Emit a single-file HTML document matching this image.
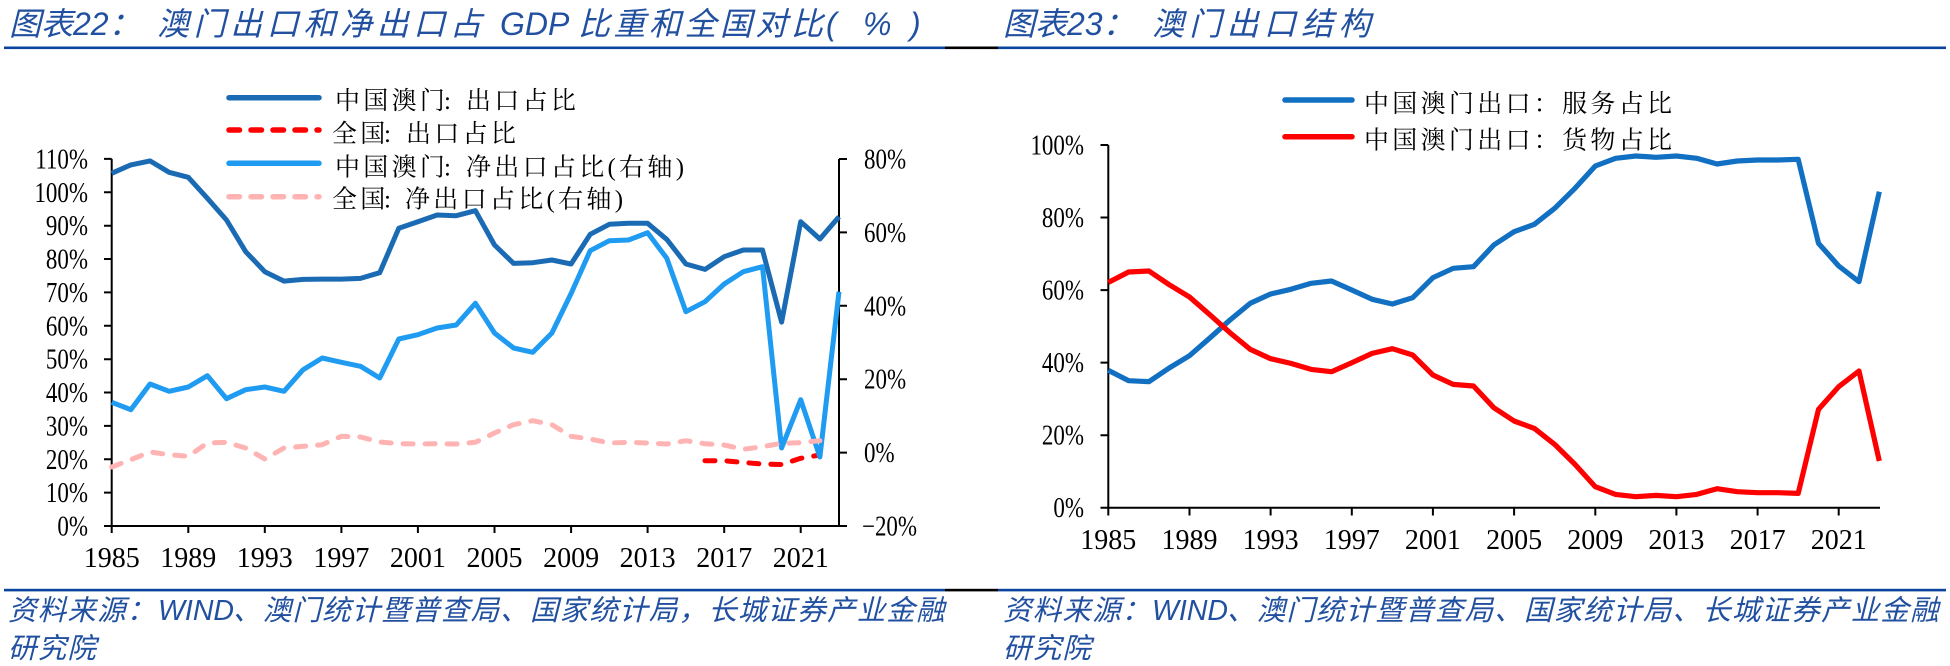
<!DOCTYPE html>
<html>
<head>
<meta charset="utf-8">
<style>
  html,body{margin:0;padding:0;background:#fff;}
  svg{display:block;}
</style>
</head>
<body>
<svg width="1950" height="666" viewBox="0 0 1950 666" xmlns="http://www.w3.org/2000/svg">
<rect width="1950" height="666" fill="#fff"/>

<!-- header & footer rules -->
<rect x="4" y="46.5" width="941" height="2.6" fill="#0B449E"/>
<rect x="945" y="46.5" width="53" height="2.6" fill="#000"/>
<rect x="998" y="46.5" width="948" height="2.6" fill="#0B449E"/>
<rect x="4" y="588.8" width="941" height="2.6" fill="#0B449E"/>
<rect x="945" y="588.8" width="53" height="2.6" fill="#000"/>
<rect x="998" y="588.8" width="948" height="2.6" fill="#0B449E"/>

<!-- titles -->
<g font-family="'Liberation Sans','Noto Sans CJK SC',sans-serif" font-style="italic" font-size="32" fill="#2150A0">
  <text x="9" y="35">图表22：</text>
  <text x="157" y="35" letter-spacing="4.6">澳门出口和净出口占</text>
  <text x="500" y="35">GDP</text>
  <text x="578" y="35" letter-spacing="3.5">比重和全国对比</text>
  <text x="826" y="35">(</text>
  <text x="863" y="35">%</text>
  <text x="910" y="35">)</text>

  <text x="1003" y="35">图表23：</text>
  <text x="1152" y="35" letter-spacing="5.3">澳门出口结构</text>
</g>

<!-- footers -->
<g font-family="'Liberation Sans','Noto Sans CJK SC',sans-serif" font-style="italic" font-size="28.5" fill="#2150A0">
  <text x="8" y="620" letter-spacing="1.2">资料来源：</text>
  <text x="158" y="620">WIND</text>
  <text x="233" y="620" letter-spacing="1.2">、澳门统计暨普查局、国家统计局，长城证券产业金融</text>
  <text x="8" y="658" letter-spacing="1.2">研究院</text>

  <text x="1003" y="620" letter-spacing="1.2">资料来源：</text>
  <text x="1152" y="620">WIND</text>
  <text x="1227" y="620" letter-spacing="1.2">、澳门统计暨普查局、国家统计局、长城证券产业金融</text>
  <text x="1003" y="658" letter-spacing="1.2">研究院</text>
</g>

<!-- ================= LEFT CHART ================= -->
<g stroke="#000" stroke-width="2" fill="none">
  <line x1="111.7" y1="158.9" x2="111.7" y2="527"/>
  <line x1="110.7" y1="526" x2="840" y2="526"/>
  <line x1="839" y1="159" x2="839" y2="527"/>
  <!-- left ticks -->
  <path d="M104 526H111.7M104 492.6H111.7M104 459.3H111.7M104 425.9H111.7M104 392.5H111.7M104 359.2H111.7M104 325.8H111.7M104 292.4H111.7M104 259H111.7M104 225.7H111.7M104 192.3H111.7M104 158.9H111.7"/>
  <!-- right ticks -->
  <path d="M839 526H847M839 452.6H847M839 379.2H847M839 305.8H847M839 232.4H847M839 159H847"/>
  <!-- x ticks -->
  <path d="M111.7 526V533M188.3 526V533M264.8 526V533M341.4 526V533M417.9 526V533M494.5 526V533M571.1 526V533M647.6 526V533M724.2 526V533M800.7 526V533"/>
</g>

<g font-family="'Liberation Serif',serif" font-size="28" fill="#000">
  <text transform="translate(88,535.5) scale(0.82,1)" text-anchor="end">0%</text>
  <text transform="translate(88,502.1) scale(0.82,1)" text-anchor="end">10%</text>
  <text transform="translate(88,468.8) scale(0.82,1)" text-anchor="end">20%</text>
  <text transform="translate(88,435.4) scale(0.82,1)" text-anchor="end">30%</text>
  <text transform="translate(88,402) scale(0.82,1)" text-anchor="end">40%</text>
  <text transform="translate(88,368.7) scale(0.82,1)" text-anchor="end">50%</text>
  <text transform="translate(88,335.3) scale(0.82,1)" text-anchor="end">60%</text>
  <text transform="translate(88,301.9) scale(0.82,1)" text-anchor="end">70%</text>
  <text transform="translate(88,268.5) scale(0.82,1)" text-anchor="end">80%</text>
  <text transform="translate(88,235.2) scale(0.82,1)" text-anchor="end">90%</text>
  <text transform="translate(88,201.8) scale(0.82,1)" text-anchor="end">100%</text>
  <text transform="translate(88,168.4) scale(0.82,1)" text-anchor="end">110%</text>

  <text transform="translate(862,535.5) scale(0.82,1)">−20%</text>
  <text transform="translate(864,462.1) scale(0.82,1)">0%</text>
  <text transform="translate(864,388.7) scale(0.82,1)">20%</text>
  <text transform="translate(864,315.3) scale(0.82,1)">40%</text>
  <text transform="translate(864,241.9) scale(0.82,1)">60%</text>
  <text transform="translate(864,168.5) scale(0.82,1)">80%</text>

  <g text-anchor="middle">
    <text x="111.7" y="567">1985</text>
    <text x="188.3" y="567">1989</text>
    <text x="264.8" y="567">1993</text>
    <text x="341.4" y="567">1997</text>
    <text x="417.9" y="567">2001</text>
    <text x="494.5" y="567">2005</text>
    <text x="571.1" y="567">2009</text>
    <text x="647.6" y="567">2013</text>
    <text x="724.2" y="567">2017</text>
    <text x="800.7" y="567">2021</text>
  </g>
</g>

<g fill="none" stroke-linejoin="round">
  <polyline stroke="#1A6BB3" stroke-width="5" points="111.7,173.3 130.8,164.9 150.0,160.9 169.1,172.3 188.3,177.3 207.4,198.3 226.5,220 245.7,251.7 264.8,271.7 284.0,281.1 303.1,279.4 322.2,279.1 341.4,279.1 360.5,278.4 379.7,272.7 398.8,228.3 417.9,221.7 437.1,215 456.2,215.7 475.4,210.7 494.5,245 513.6,263.4 532.8,262.7 551.9,260 571.1,264 590.2,234.3 609.3,224.3 628.5,223.3 647.6,223.3 666.8,239.4 685.9,264 705.0,269.4 724.2,256.7 743.3,250 762.5,250 781.6,322.1 800.7,221.7 819.9,239 839.0,216.7"/>
  <polyline stroke="#FF0000" stroke-width="5" stroke-linecap="round" stroke-dasharray="10 12" points="705.0,460.7 724.2,460.7 743.3,462.5 762.5,464 781.6,464.5 800.7,458.3 819.9,455"/>
  <polyline stroke="#1F9BF2" stroke-width="5" points="111.7,402.3 130.8,409.7 150.0,384 169.1,391.3 188.3,387 207.4,375.7 226.5,398.7 245.7,389.7 264.8,387 284.0,391.3 303.1,369.7 322.2,358 341.4,362.3 360.5,366.3 379.7,378 398.8,339 417.9,334.7 437.1,328 456.2,325 475.4,303.3 494.5,333 513.6,348 532.8,352.3 551.9,333 571.1,293.5 590.2,250.7 609.3,240.7 628.5,240 647.6,232.7 666.8,258.3 685.9,311.7 705.0,301.7 724.2,284 743.3,271.7 762.5,266.7 781.6,448 800.7,399.7 819.9,457 839.0,291.7"/>
  <polyline stroke="#FFB3B3" stroke-width="5" stroke-linecap="round" stroke-dasharray="10 12" points="111.7,467 130.8,459.7 150.0,452 169.1,454.7 188.3,456.3 207.4,443 226.5,442.3 245.7,448 264.8,459 284.0,448 303.1,446.3 322.2,444.7 341.4,436.3 360.5,437 379.7,442 398.8,443.7 417.9,444 437.1,443.7 456.2,444 475.4,442.3 494.5,433 513.6,424.7 532.8,420.7 551.9,424.7 571.1,436.3 590.2,439 609.3,443 628.5,442.3 647.6,443 666.8,444 685.9,440.7 705.0,443.7 724.2,445 743.3,449.3 762.5,446.7 781.6,443.3 800.7,442.7 819.9,440.7"/>
</g>

<!-- left legend -->
<g stroke-width="5.5" stroke-linecap="round" fill="none">
  <line x1="229" y1="97.7" x2="319" y2="97.7" stroke="#1A6BB3"/>
  <line x1="229" y1="130" x2="319" y2="130" stroke="#FF0000" stroke-dasharray="10.5 11.5"/>
  <line x1="229" y1="163.3" x2="319" y2="163.3" stroke="#1F9BF2"/>
  <line x1="229" y1="196.7" x2="319" y2="196.7" stroke="#FFB3B3" stroke-dasharray="10.5 11.5"/>
</g>
<g font-family="'Liberation Serif','Noto Serif CJK SC',serif" font-size="25" fill="#000" letter-spacing="3.3">
  <text x="335" y="109">中国澳门</text><text x="444" y="109">:</text><text x="466" y="109">出口占比</text>
  <text x="332" y="142">全国</text><text x="384" y="142">:</text><text x="406" y="142">出口占比</text>
  <text x="335" y="175.5">中国澳门</text><text x="444" y="175.5">:</text><text x="466" y="175.5">净出口占比(右轴)</text>
  <text x="332" y="207.5">全国</text><text x="384" y="207.5">:</text><text x="405" y="207.5">净出口占比(右轴)</text>
</g>

<!-- ================= RIGHT CHART ================= -->
<g stroke="#000" stroke-width="2" fill="none">
  <line x1="1108.3" y1="145" x2="1108.3" y2="508.7"/>
  <line x1="1107.3" y1="507.7" x2="1880" y2="507.7"/>
  <path d="M1100.5 507.7H1108.3M1100.5 435.2H1108.3M1100.5 362.6H1108.3M1100.5 290.1H1108.3M1100.5 217.5H1108.3M1100.5 145H1108.3"/>
  <path d="M1108.3 507.7V515.5M1189.5 507.7V515.5M1270.6 507.7V515.5M1351.8 507.7V515.5M1432.9 507.7V515.5M1514.1 507.7V515.5M1595.3 507.7V515.5M1676.4 507.7V515.5M1757.6 507.7V515.5M1838.7 507.7V515.5"/>
</g>

<g font-family="'Liberation Serif',serif" font-size="28" fill="#000">
  <text transform="translate(1084,517.2) scale(0.82,1)" text-anchor="end">0%</text>
  <text transform="translate(1084,444.7) scale(0.82,1)" text-anchor="end">20%</text>
  <text transform="translate(1084,372.1) scale(0.82,1)" text-anchor="end">40%</text>
  <text transform="translate(1084,299.6) scale(0.82,1)" text-anchor="end">60%</text>
  <text transform="translate(1084,227) scale(0.82,1)" text-anchor="end">80%</text>
  <text transform="translate(1084,154.5) scale(0.82,1)" text-anchor="end">100%</text>
  <g text-anchor="middle">
    <text x="1108.3" y="549">1985</text>
    <text x="1189.5" y="549">1989</text>
    <text x="1270.6" y="549">1993</text>
    <text x="1351.8" y="549">1997</text>
    <text x="1432.9" y="549">2001</text>
    <text x="1514.1" y="549">2005</text>
    <text x="1595.3" y="549">2009</text>
    <text x="1676.4" y="549">2013</text>
    <text x="1757.6" y="549">2017</text>
    <text x="1838.7" y="549">2021</text>
  </g>
</g>

<g fill="none" stroke-linejoin="round" stroke-width="5.2">
  <polyline stroke="#1170C2" points="1108.3,370.3 1128.6,380.7 1148.9,381.7 1169.2,368 1189.5,355.7 1209.8,338 1230.0,320 1250.3,303.3 1270.6,294 1290.9,289.3 1311.2,283.3 1331.5,281 1351.8,290 1372.1,299.3 1392.4,304 1412.7,297.7 1432.9,277.7 1453.2,268.3 1473.5,266.7 1493.8,245 1514.1,231.7 1534.4,224.3 1554.7,208.3 1575.0,188.3 1595.3,166 1615.6,158.3 1635.8,156 1656.1,157.3 1676.4,156 1696.7,158.3 1717.0,164 1737.3,161 1757.6,160 1777.9,160 1798.2,159.3 1818.5,243.3 1838.7,266 1859.0,281.7 1879.3,191.7"/>
  <polyline stroke="#FF0000" points="1108.3,282.4 1128.6,272 1148.9,271 1169.2,284.7 1189.5,297 1209.8,314.7 1230.0,332.7 1250.3,349.4 1270.6,358.7 1290.9,363.4 1311.2,369.4 1331.5,371.7 1351.8,362.7 1372.1,353.4 1392.4,348.7 1412.7,355 1432.9,375 1453.2,384.4 1473.5,386 1493.8,407.7 1514.1,421 1534.4,428.4 1554.7,444.4 1575.0,464.4 1595.3,486.7 1615.6,494.4 1635.8,496.7 1656.1,495.4 1676.4,496.7 1696.7,494.4 1717.0,488.7 1737.3,491.7 1757.6,492.7 1777.9,492.7 1798.2,493.4 1818.5,409.4 1838.7,386.7 1859.0,371 1879.3,461"/>
</g>

<!-- right legend -->
<g stroke-width="5.5" stroke-linecap="round" fill="none">
  <line x1="1285" y1="100" x2="1352" y2="100" stroke="#1170C2"/>
  <line x1="1285" y1="136.7" x2="1352" y2="136.7" stroke="#FF0000"/>
</g>
<g font-family="'Liberation Serif','Noto Serif CJK SC',serif" font-size="25" fill="#000" letter-spacing="3.3">
  <text x="1364" y="112">中国澳门出口：服务占比</text>
  <text x="1364" y="148.5">中国澳门出口：货物占比</text>
</g>

</svg>
</body>
</html>
